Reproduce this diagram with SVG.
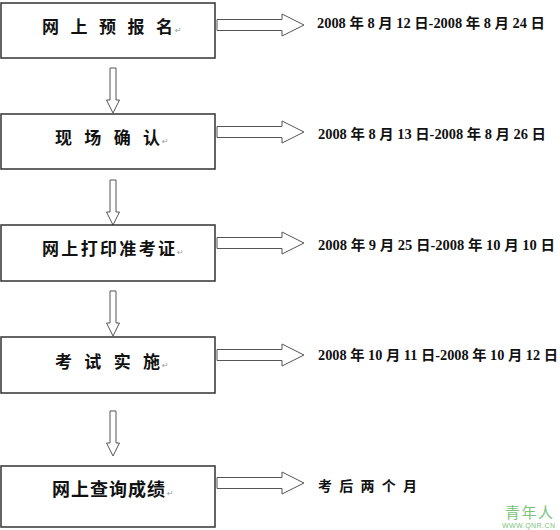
<svg xmlns="http://www.w3.org/2000/svg" width="560" height="530" viewBox="0 0 560 530">
<defs>
<style>
.box{fill:#fff;stroke:#333;stroke-width:1.5}
.arr{fill:#fff;stroke:#555;stroke-width:1}
.t{font-family:"Noto Sans CJK SC","Noto Sans CJK TC",sans-serif;font-weight:bold;font-size:17px;fill:#111}
.d{font-family:"Liberation Serif","Noto Sans CJK SC",serif;font-weight:bold;font-size:14px;fill:#111}
.pm{font-family:"DejaVu Sans",sans-serif;font-size:8px;fill:#999}
.wm{font-family:"Noto Sans CJK SC",sans-serif;fill:#7cc47a}
</style>
<path id="ra" d="M0,-5.5 H65 V-11 L87,0 L65,11 V5.5 H0 Z"/>
<path id="da" d="M-3,0 V32 H-6.5 L0,45 L6.5,32 H3 V0 Z"/>
</defs>
<rect width="560" height="530" fill="#fff"/>
<g id="connectors">
<use href="#ra" class="arr" x="217" y="25"/>
<use href="#ra" class="arr" x="217" y="132"/>
<use href="#ra" class="arr" x="217" y="243"/>
<use href="#ra" class="arr" x="217" y="355"/>
<use href="#ra" class="arr" x="217" y="483"/>
<use href="#da" class="arr" x="113" y="68"/>
<use href="#da" class="arr" x="113" y="180"/>
<use href="#da" class="arr" x="113" y="291"/>
<use href="#da" class="arr" x="113" y="411"/>
</g>
<g id="n1">
<rect class="box" x="1" y="3" width="214" height="55"/>
<text class="t" x="42" y="33" textLength="131">网 上 预 报 名</text>
<text class="pm" x="175" y="33">↵</text>
</g>
<g id="n2">
<rect class="box" x="1" y="114" width="214" height="55"/>
<text class="t" x="55" y="144" textLength="105">现 场 确 认</text>
<text class="pm" x="162" y="144">↵</text>
</g>
<g id="n3">
<rect class="box" x="1" y="225" width="214" height="56"/>
<text class="t" x="42" y="255" textLength="133">网上打印准考证</text>
<text class="pm" x="177" y="255">↵</text>
</g>
<g id="n4">
<rect class="box" x="1" y="337" width="214" height="56"/>
<text class="t" x="55" y="368" textLength="105">考 试 实 施</text>
<text class="pm" x="162" y="368">↵</text>
</g>
<g id="n5">
<rect class="box" x="1" y="466" width="214" height="61"/>
<text class="t" x="52" y="496" textLength="113" style="font-size:18px">网上查询成绩</text>
<text class="pm" x="167" y="496">↵</text>
</g>
<g id="dates">
<text class="d" x="317" y="28" textLength="228" lengthAdjust="spacingAndGlyphs">2008 年 8 月 12 日-2008 年 8 月 24 日</text>
<text class="d" x="318" y="139" textLength="228" lengthAdjust="spacingAndGlyphs">2008 年 8 月 13 日-2008 年 8 月 26 日</text>
<text class="d" x="318" y="250" textLength="237" lengthAdjust="spacingAndGlyphs">2008 年 9 月 25 日-2008 年 10 月 10 日</text>
<text class="d" x="318" y="360" textLength="240" lengthAdjust="spacingAndGlyphs">2008 年 10 月 11 日-2008 年 10 月 12 日</text>
<text class="t" x="318" y="491" textLength="99" style="font-size:14px">考 后 两 个 月</text>
</g>
<g id="watermark">
<text class="wm" x="505" y="518" font-size="15" textLength="48">青年人</text>
<text class="wm" x="502" y="528" font-size="7" textLength="53" style="font-family:'Liberation Sans',sans-serif">WWW.QNR.CN</text>
</g>
</svg>
